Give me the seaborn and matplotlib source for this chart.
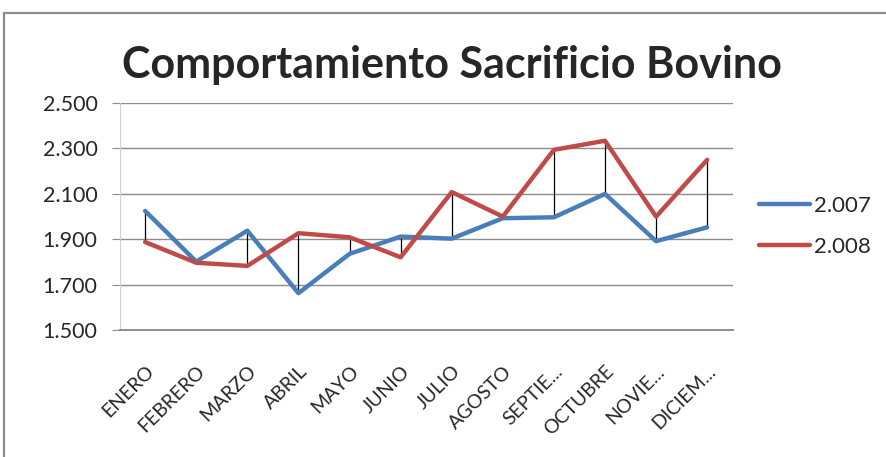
import numpy as np
import pandas as pd
import seaborn as sns
import matplotlib.pyplot as plt
from matplotlib.patches import Rectangle
from matplotlib.ticker import FuncFormatter

# datos
meses = ["ENERO", "FEBRERO", "MARZO", "ABRIL", "MAYO", "JUNIO", "JULIO",
         "AGOSTO", "SEPTIE...", "OCTUBRE", "NOVIE...", "DICIEM..."]
sacrificio_2007 = [2024, 1801, 1937, 1662, 1835, 1911, 1902, 1992, 1996, 2099, 1891, 1952]
sacrificio_2008 = [1887, 1796, 1782, 1926, 1908, 1820, 2107, 1999, 2293, 2333, 1999, 2249]
series = ["2.007", "2.008"]

df = pd.DataFrame({
    "mes": meses * 2,
    "x": list(range(len(meses))) * 2,
    "valor": sacrificio_2007 + sacrificio_2008,
    "serie": [series[0]] * len(meses) + [series[1]] * len(meses),
})

sns.set_style("white")
plt.rcParams["font.family"] = ["Lato", "DejaVu Sans"]

fig = plt.figure(figsize=(8.86, 4.57), dpi=100)
ax = fig.add_axes([0.135, 0.278, 0.692, 0.497])

# marco exterior del grafico
fig.patches.append(Rectangle((4 / 886, -0.05), 1.1, 1 - 13 / 457 + 0.05,
                             transform=fig.transFigure, fill=False,
                             edgecolor="#8c8c8c", linewidth=1.6))

# lineas de maximo/minimo entre series
ax.vlines(range(len(meses)), np.minimum(sacrificio_2007, sacrificio_2008),
          np.maximum(sacrificio_2007, sacrificio_2008), color="black",
          linewidth=0.9, zorder=1)

sns.lineplot(data=df, x="x", y="valor", hue="serie",
             palette=["#4A7EBB", "#BE4B48"], linewidth=3.2, ax=ax,
             zorder=2)

ax.set_xlim(-0.5, len(meses) - 0.5)
ax.set_ylim(1500, 2500)
ax.set_yticks(np.arange(1500, 2501, 200))
ax.yaxis.set_major_formatter(FuncFormatter(lambda v, p: f"{v/1000:.3f}"))
ax.set_xticks(range(len(meses)))
ax.set_xticklabels(meses, rotation=45, ha="right", rotation_mode="anchor")
ax.set_xlabel("")
ax.set_ylabel("")

ax.grid(axis="y", color="#8c8c8c", linewidth=1)
for s in ["top", "right"]:
    ax.spines[s].set_visible(False)
ax.spines["left"].set_color("#d0d0d0")
ax.spines["bottom"].set_color("#8c8c8c")
ax.spines["bottom"].set_linewidth(1.4)
ax.tick_params(axis="y", left=True, length=6, color="#8c8c8c",
               labelsize=15.5, pad=10)
ax.tick_params(axis="x", bottom=False, labelsize=14, pad=20)

ax.legend(loc="center left", bbox_to_anchor=(1.01, 0.455), frameon=False,
          fontsize=16, handlelength=2.3, handletextpad=0.2, labelspacing=0.95)

fig.text(0.51, 0.857, "Comportamiento Sacrificio Bovino", ha="center",
         va="center", fontsize=31, fontweight="bold")

fig.savefig("out.png", dpi=100)
